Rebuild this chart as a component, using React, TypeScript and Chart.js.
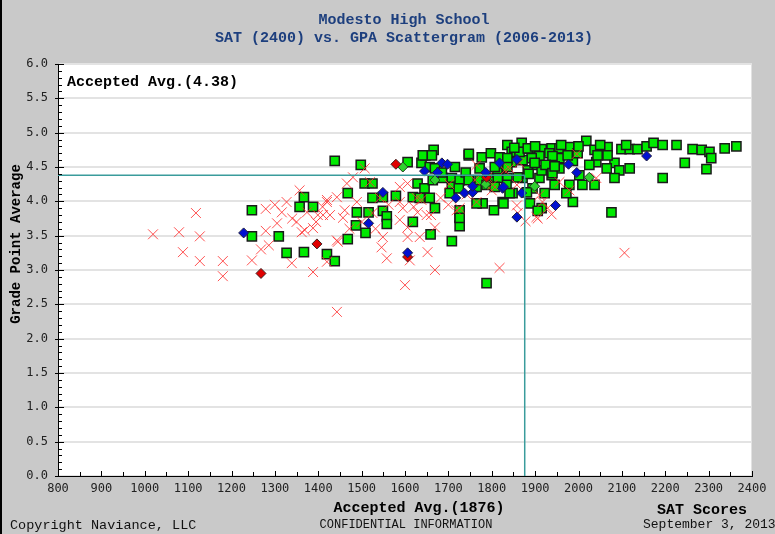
import React, { useEffect, useRef } from "react";
import { Chart, registerables } from "chart.js";

Chart.register(...registerables);

const titleLines = ["Modesto High School", "SAT (2400) vs. GPA Scattergram (2006-2013)"];
const xTickMin = 800;
const xTickMax = 2400;
const yTickMin = 0;
const yTickMax = 6;
const avgSat = 1876;
const avgGpa = 4.38;

// Accepted (green squares)
const acceptedSat = [
  1438, 1247, 1367, 1357, 1388, 1247, 1309, 1327, 1367, 1420, 1438,
  1498, 1606, 1638, 1647, 1666, 1657, 1669, 1687, 1708, 1708, 1726, 1747, 1777, 1798, 1818, 1836, 1846, 1846,
  1823, 1802, 1779, 1765, 1825, 1836, 1848, 1825, 1805, 1779, 1765, 1507, 1525, 1468, 1525, 1549, 1579, 1629,
  1645, 1618, 1634, 1657, 1669, 1489, 1516, 1549, 1558, 1558, 1487, 1509, 1468, 1618, 1659, 1726, 1726, 1708, 1788,
  1869, 1888, 1915, 1938, 1956, 1979, 2018, 2037, 2067, 2099, 2118, 2136, 2157, 2173, 2194, 2226, 2263, 2284,
  2302, 2306, 2337, 2364, 2245, 2295, 2194, 2076, 1987, 2083, 2094, 2118, 2083, 2065, 2041, 2037, 2009, 2002,
  1979, 1987, 1956, 1956, 1938, 1910, 1933, 1910, 1892, 1899, 1871, 1915, 1883, 1871, 1894, 1881, 1888, 1915,
  1972, 1834, 1813, 2025, 2067, 2044, 1998, 1975, 1864, 1836, 1906, 1827,
  1641, 1662, 1747, 1883, 1940, 1899, 1924, 1940, 1885, 1860, 1836, 1807, 1772, 1740, 1747, 1664, 1685, 1715,
  1703, 1724, 1814, 1772, 1788, 1807, 1841, 1726, 1726, 1945, 1922, 1945,
  1900, 1960, 2000, 2050, 2110, 1852,
];
const acceptedGpa = [
  4.59, 3.87, 4.06, 3.92, 3.92, 3.49, 3.49, 3.25, 3.26, 3.23, 3.13,
  4.53, 4.57, 4.56, 4.67, 4.75, 4.50, 4.48, 4.34, 4.34, 4.21, 4.31, 4.67, 4.64, 4.70, 4.64, 4.82, 4.72, 4.57,
  4.50, 4.34, 4.26, 4.21, 4.35, 4.34, 4.12, 3.99, 3.87, 3.97, 3.97, 4.26, 4.26, 4.12, 4.05, 4.06, 4.08, 4.26,
  4.19, 4.06, 4.05, 4.05, 3.90, 3.84, 3.84, 3.86, 3.78, 3.67, 3.65, 3.54, 3.45, 3.70, 3.52, 3.77, 3.64, 3.42, 2.81,
  4.85, 4.77, 4.76, 4.77, 4.77, 4.79, 4.88, 4.75, 4.79, 4.76, 4.76, 4.76, 4.80, 4.85, 4.82, 4.82, 4.76, 4.75,
  4.72, 4.63, 4.77, 4.80, 4.56, 4.47, 4.34, 3.84, 3.99, 4.56, 4.45, 4.48, 4.34, 4.48, 4.57, 4.24, 4.24, 4.38,
  4.24, 4.59, 4.63, 4.48, 4.38, 4.34, 4.70, 4.66, 4.63, 4.53, 4.60, 4.45, 4.45, 4.34, 4.19, 4.13, 3.97, 3.90,
  4.12, 4.24, 4.42, 4.53, 4.67, 4.67, 4.70, 4.67, 4.72, 4.63, 3.86, 3.97,
  4.67, 4.67, 4.69, 4.77, 4.66, 4.56, 4.53, 4.41, 4.40, 4.35, 4.50, 4.50, 4.48, 4.42, 4.31, 4.31, 4.42, 4.50,
  4.12, 4.19, 4.34, 4.31, 4.24, 4.21, 4.12, 3.87, 3.76, 4.24, 4.12, 4.51,
  4.80, 4.82, 4.80, 4.82, 4.82, 4.78,
];

// Denied (red crosses)
const deniedSat = [
  1118, 1019, 1079, 1127, 1088, 1127, 1180, 1180, 1247, 1279, 1279, 1268, 1286, 1305, 1316, 1327, 1339, 1357,
  1350, 1369, 1388, 1388, 1420, 1427, 1443, 1443, 1443, 1399, 1374,
  1507, 1480, 1466, 1519, 1420, 1461, 1489, 1457, 1411, 1525, 1542, 1588, 1606, 1588, 1595, 1588, 1606, 1629,
  1650, 1638, 1627, 1669, 1549, 1606, 1634, 1546, 1558, 1611, 1652, 1669, 1600, 1818, 1420, 1445, 1726, 1719,
  1765, 1761, 1765, 1802, 1830,
  1996, 1864, 1841, 1956, 1979, 2041, 1858, 1910, 1917, 1929, 1938, 1903, 1858, 1860, 1800, 2106, 1906, 1878,
  1300, 1340, 1362, 1395, 1410, 1472, 1500, 1532, 1562, 1620, 1660, 1682, 1700, 1742, 1790, 1702,
];
const deniedGpa = [
  3.83, 3.52, 3.55, 3.49, 3.26, 3.13, 3.13, 2.91, 3.14, 3.89, 3.57, 3.30, 3.36, 3.68, 3.84, 3.99, 3.10, 4.16,
  3.70, 3.58, 3.61, 2.97, 4.02, 3.80, 4.06, 3.43, 2.39, 3.80, 3.84,
  4.48, 4.35, 4.26, 4.28, 3.99, 3.87, 3.99, 3.76, 3.80, 3.83, 4.05, 4.21, 4.26, 3.99, 3.90, 3.73, 3.62, 3.84,
  3.80, 4.02, 4.05, 3.62, 3.48, 3.48, 3.48, 3.33, 3.17, 3.14, 3.26, 3.00, 2.78, 3.03, 3.12, 3.41, 3.90, 3.87,
  4.53, 4.31, 3.99, 4.24, 4.45,
  4.69, 4.56, 4.48, 4.28, 4.16, 4.34, 4.24, 4.09, 3.99, 3.90, 3.81, 3.77, 3.94, 3.83, 4.16, 3.25, 3.75, 3.71,
  3.95, 3.75, 3.55, 3.70, 3.92, 3.60, 3.70, 3.60, 3.95, 3.92, 3.80, 4.05, 3.95, 4.10, 4.35, 4.25,
];

// Waitlisted (blue diamonds)
const waitlistSat = [
  1228, 1685, 1698, 1645, 1675, 1549, 1516, 1717, 1737, 1756, 1756, 1786, 1818, 1825, 1858, 1606, 2157, 1996,
  1977, 1858, 1827, 1869, 1947,
];
const waitlistGpa = [
  3.54, 4.56, 4.54, 4.44, 4.42, 4.13, 3.68, 4.05, 4.12, 4.13, 4.22, 4.42, 4.56, 4.19, 3.77, 3.25, 4.66, 4.42,
  4.54, 4.61, 4.21, 4.12, 3.94,
];

// Waitlisted, denied (red diamonds)
const waitDeniedSat = [1268, 1397, 1579, 1606, 1788];
const waitDeniedGpa = [2.95, 3.38, 4.54, 3.19, 4.35];

// Waitlisted, accepted (green diamonds)
const waitAcceptedSat = [1595, 1669, 1786, 2025, 1899];
const waitAcceptedGpa = [4.5, 4.31, 4.25, 4.35, 4.22];

const toPoints = (xs: number[], ys: number[]) => xs.map((x, i) => ({ x, y: ys[i] }));

const W = 775;
const H = 534;
const MONO = "'Liberation Mono', 'DejaVu Sans Mono', monospace";
const TICKFONT = "'DejaVu Sans Mono', monospace";

const framePlugin = {
  id: "frame",
  beforeDraw(chart: any) {
    const { ctx, chartArea } = chart;
    ctx.save();
    ctx.fillStyle = "#c9c9c9";
    ctx.fillRect(0, 0, W, H);
    ctx.fillStyle = "#ffffff";
    ctx.fillRect(chartArea.left, chartArea.top, chartArea.right - chartArea.left, chartArea.bottom - chartArea.top);
    ctx.strokeStyle = "#e2e2e2";
    ctx.lineWidth = 1;
    ctx.strokeRect(chartArea.left + 0.5, chartArea.top + 0.5, chartArea.right - chartArea.left - 1, chartArea.bottom - chartArea.top - 1);
    ctx.fillStyle = "#000";
    ctx.fillRect(0, 0, 2, H);
    ctx.restore();
  },
  afterDraw(chart: any) {
    const { ctx, chartArea, scales } = chart;
    const xs = scales.x;
    const ys = scales.y;
    ctx.save();
    // minor ticks
    ctx.strokeStyle = "#000";
    ctx.lineWidth = 1;
    ctx.beginPath();
    for (let i = 0; i <= 60; i++) {
      const v = i / 10;
      const py = Math.round(ys.getPixelForValue(v)) + 0.5;
      const major = i % 5 === 0;
      ctx.moveTo(chartArea.left - (major ? 3 : 0), py);
      ctx.lineTo(chartArea.left + (major ? 6 : 4), py);
    }
    for (let v = xTickMin; v <= xTickMax; v += 50) {
      const px = Math.round(xs.getPixelForValue(v)) + 0.5;
      const major = v % 100 === 0;
      ctx.moveTo(px, chartArea.bottom);
      ctx.lineTo(px, chartArea.bottom - (major ? 5 : 4));
    }
    ctx.stroke();

    // texts
    ctx.textBaseline = "middle";
    ctx.fillStyle = "#1d3f7e";
    ctx.textAlign = "center";
    ctx.font = `bold 15px ${MONO}`;
    ctx.fillText(titleLines[0], 404, 20);
    ctx.fillText(titleLines[1], 404, 38);

    ctx.fillStyle = "#000";
    ctx.textAlign = "left";
    ctx.font = `bold 15px ${MONO}`;
    ctx.fillText(`Accepted Avg.(${avgGpa.toFixed(2)})`, 67, 82);

    ctx.textAlign = "center";
    ctx.fillText(`Accepted Avg.(${avgSat})`, 419, 508);
    ctx.fillText("SAT Scores", 702, 510);

    ctx.save();
    ctx.translate(16, 244);
    ctx.rotate(-Math.PI / 2);
    ctx.font = `bold 14px ${MONO}`;
    ctx.fillText("Grade Point Average", 0, 0);
    ctx.restore();

    ctx.font = `13.5px ${MONO}`;
    ctx.textAlign = "left";
    ctx.fillStyle = "#111";
    ctx.fillText("Copyright Naviance, LLC", 10, 525);
    ctx.font = `12px ${MONO}`;
    ctx.textAlign = "center";
    ctx.fillText("CONFIDENTIAL INFORMATION", 406, 525);
    ctx.font = `13px ${MONO}`;
    ctx.textAlign = "left";
    ctx.fillText("September 3, 2013", 643, 525);
    ctx.restore();
  },
};

export default function App() {
  const ref = useRef<HTMLCanvasElement | null>(null);
  useEffect(() => {
    if (!ref.current) return;
    const chart = new Chart(ref.current, {
      type: "scatter",
      data: {
        datasets: [
          {
            type: "line",
            label: "avgH",
            data: [
              { x: xTickMin, y: avgGpa },
              { x: avgSat, y: avgGpa },
            ],
            borderColor: "#3a9c9c",
            borderWidth: 1.5,
            pointRadius: 0,
            fill: false,
          } as any,
          {
            type: "line",
            label: "avgV",
            data: [
              { x: avgSat, y: yTickMin },
              { x: avgSat, y: avgGpa },
            ],
            borderColor: "#3a9c9c",
            borderWidth: 1.5,
            pointRadius: 0,
            fill: false,
          } as any,
          {
            label: "Waitlisted",
            data: toPoints(waitlistSat, waitlistGpa),
            pointStyle: "rectRot",
            pointRadius: 5,
            backgroundColor: "#0010d0",
            borderColor: "#202040",
            borderWidth: 1,
          },
          {
            label: "Waitlisted denied",
            data: toPoints(waitDeniedSat, waitDeniedGpa),
            pointStyle: "rectRot",
            pointRadius: 5,
            backgroundColor: "#e00000",
            borderColor: "#402020",
            borderWidth: 1,
          },
          {
            label: "Waitlisted accepted",
            data: toPoints(waitAcceptedSat, waitAcceptedGpa),
            pointStyle: "rectRot",
            pointRadius: 5,
            backgroundColor: "#30d030",
            borderColor: "#204020",
            borderWidth: 1,
          },
          {
            label: "Denied",
            data: toPoints(deniedSat, deniedGpa),
            pointStyle: "crossRot",
            pointRadius: 7,
            backgroundColor: "rgba(255,50,50,0.85)",
            borderColor: "rgba(255,50,50,0.85)",
            borderWidth: 1,
          },
          {
            label: "Accepted",
            data: toPoints(acceptedSat, acceptedGpa),
            pointStyle: "rect",
            pointRadius: 6.5,
            backgroundColor: "#00ea00",
            borderColor: "#1a1a1a",
            borderWidth: 1.5,
          },
        ],
      },
      options: {
        animation: false,
        responsive: false,
        maintainAspectRatio: false,
        events: [],
        layout: { padding: { top: 64, right: 23, left: 0, bottom: 0 } },
        plugins: {
          legend: { display: false },
          tooltip: { enabled: false },
          title: { display: false },
        },
        scales: {
          x: {
            type: "linear",
            min: xTickMin,
            max: xTickMax,
            ticks: {
              stepSize: 100,
              autoSkip: false,
              maxRotation: 0,
              color: "#222",
              padding: 6,
              font: { family: TICKFONT, size: 12 },
              callback: (v: any) => String(Math.round(Number(v))),
            },
            grid: { display: false, drawTicks: false },
            border: { display: true, color: "#000", width: 1 },
            afterFit: (s: any) => {
              s.height = 58;
            },
          },
          y: {
            type: "linear",
            min: yTickMin,
            max: yTickMax,
            ticks: {
              stepSize: 0.5,
              color: "#222",
              padding: 10,
              font: { family: TICKFONT, size: 12 },
              callback: (v: any) => Number(v).toFixed(1),
            },
            grid: { color: "#e3e3e3", lineWidth: 2, drawTicks: false },
            border: { display: true, color: "#000", width: 1 },
            afterFit: (s: any) => {
              s.width = 58;
            },
          },
        },
      },
      plugins: [framePlugin],
    });
    return () => chart.destroy();
  }, []);
  return (
    <div style={{ position: "fixed", left: 0, top: 0, width: W, height: H }}>
      <canvas ref={ref} width={W} height={H} style={{ width: W, height: H, display: "block" }} />
    </div>
  );
}
